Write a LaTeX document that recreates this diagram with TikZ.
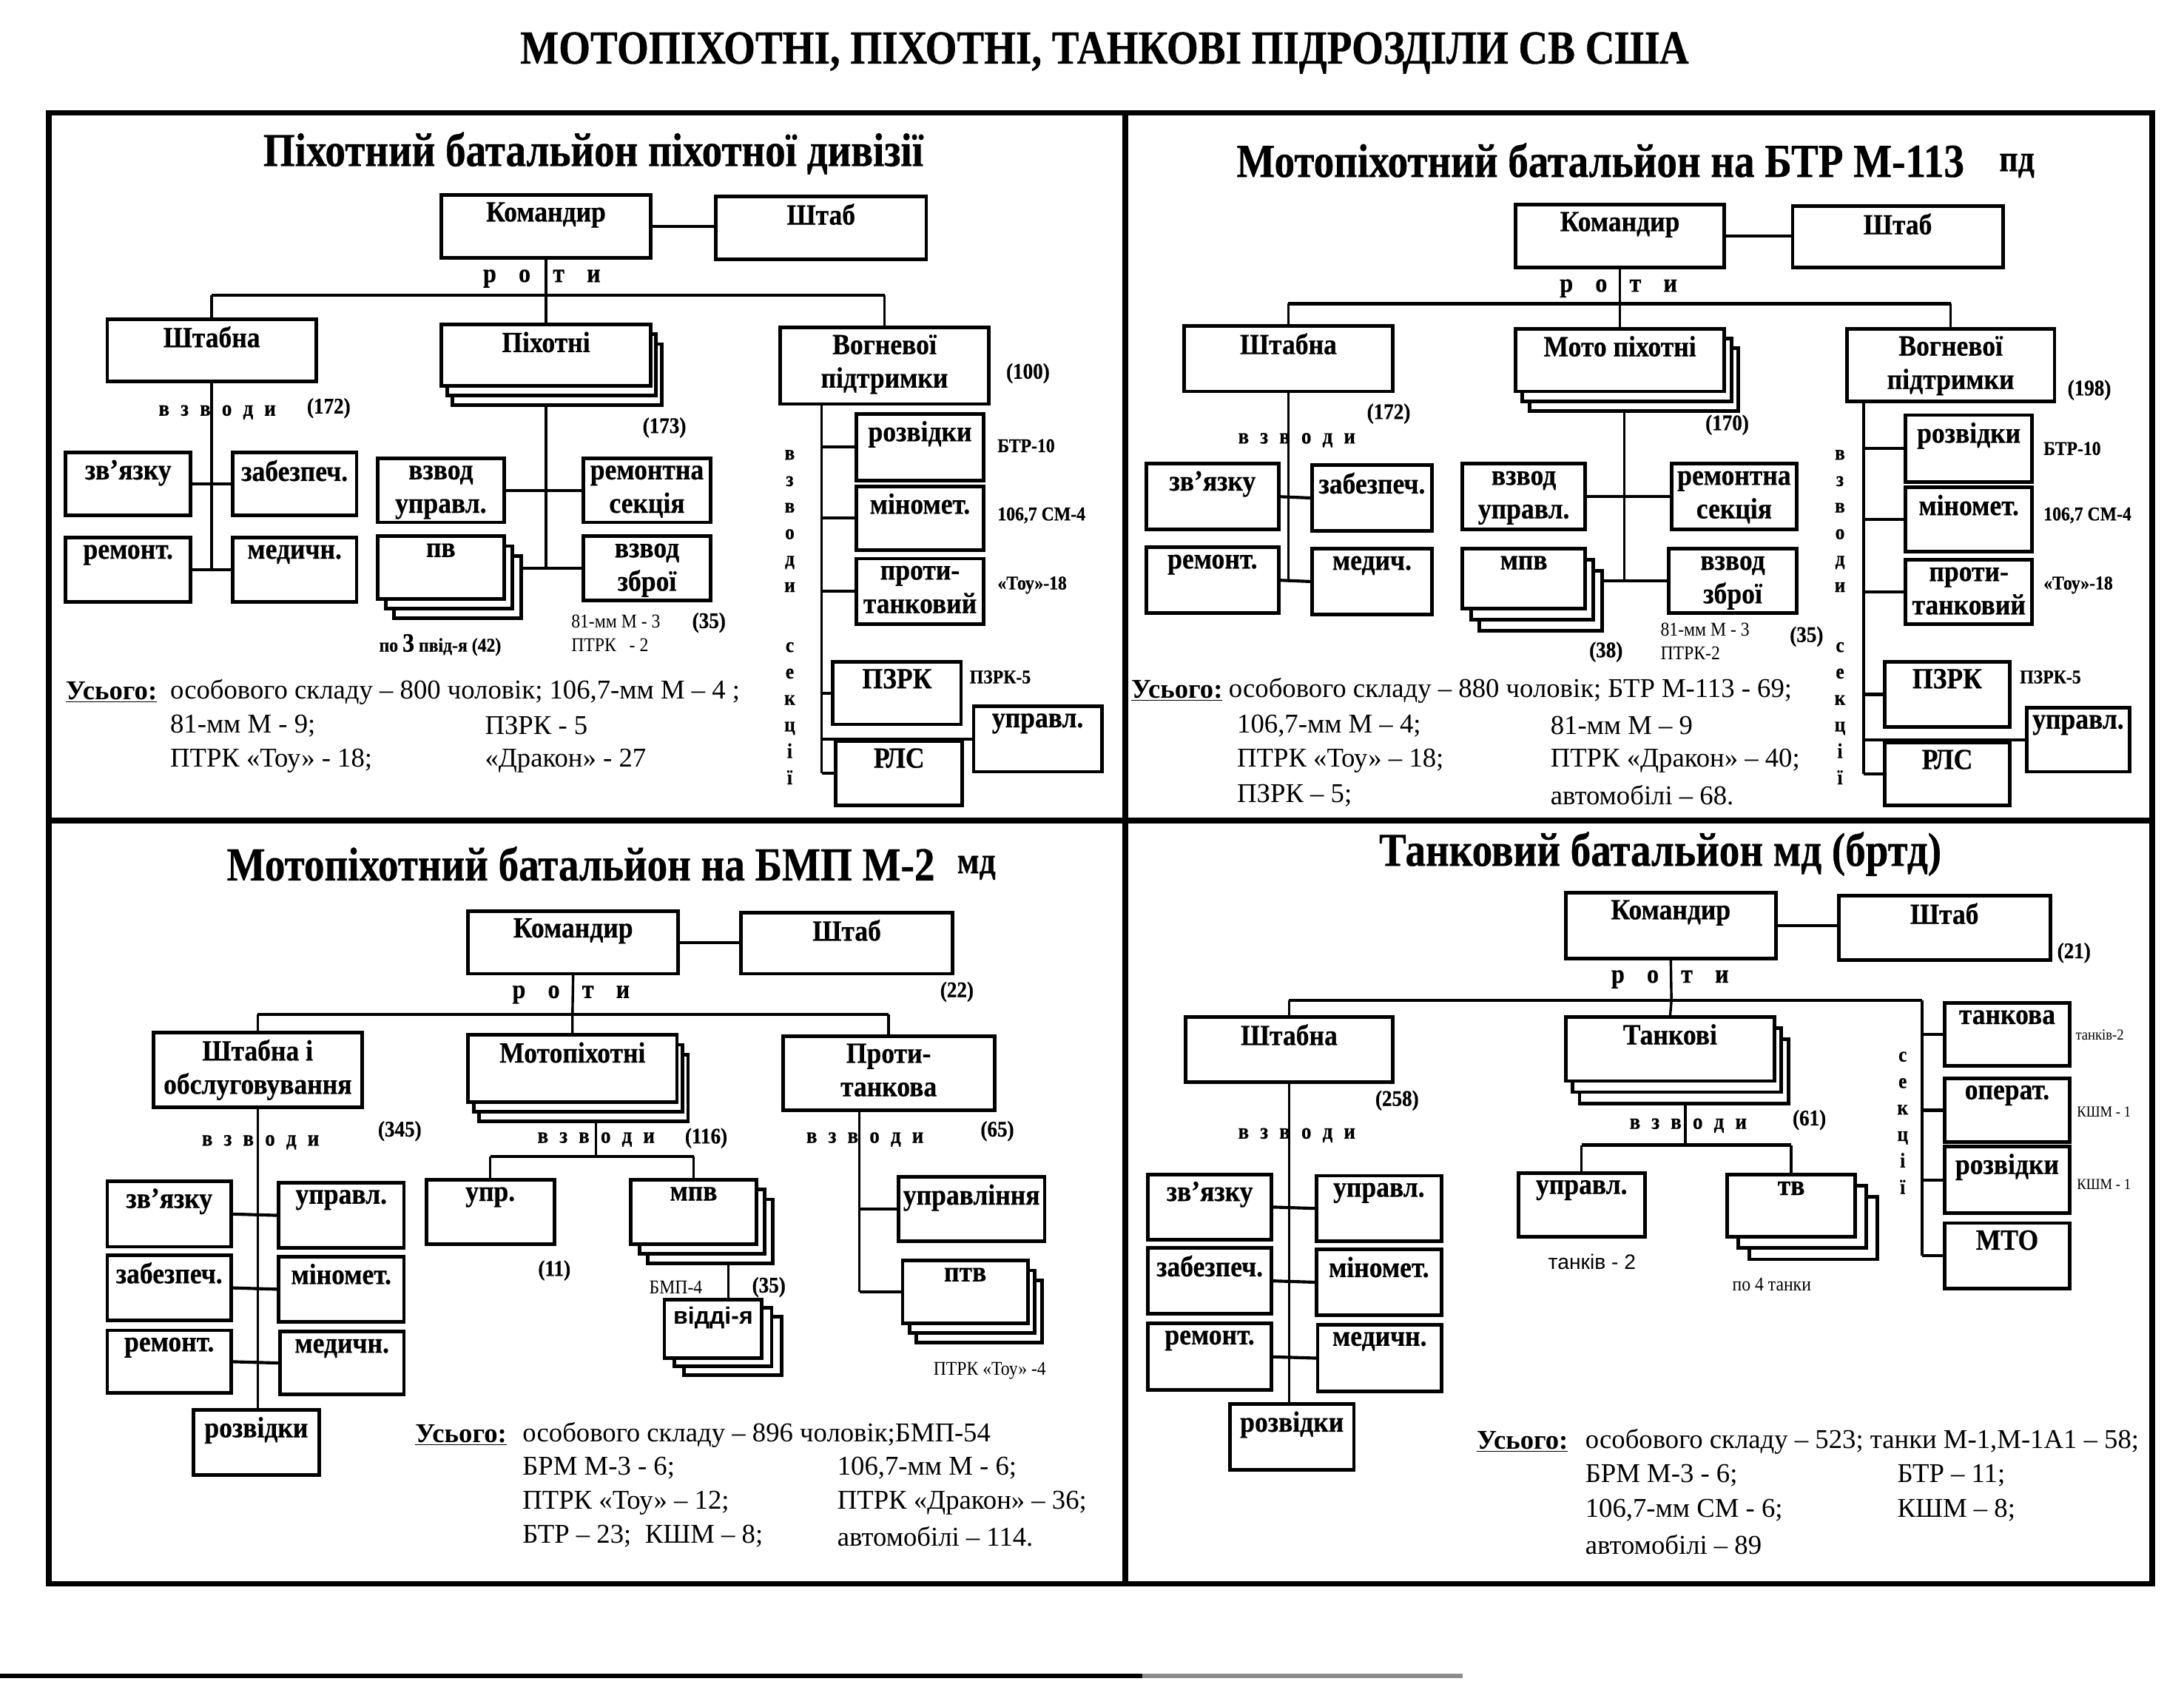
\documentclass[tikz,border=0pt]{standalone}
\usepackage{fontspec}
\setmainfont{Liberation Serif}
\newfontfamily\cnd{Liberation Serif}[FakeStretch=0.9]
\newfontfamily\ttf{Liberation Serif}[FakeStretch=0.86, FakeBold=0.6]
\newfontfamily\lbf{Liberation Serif}[FakeStretch=0.9, FakeBold=0.5]
\newfontfamily\snf{Liberation Sans}
\newcommand\rotu{р\hspace{16pt}о\hspace{16pt}т\hspace{16pt}и}
\newcommand\vzvd{в\hspace{8pt}з\hspace{8pt}в\hspace{8pt}о\hspace{8pt}д\hspace{8pt}и}
\tikzset{
 bxs/.style={draw, line width=2.6pt, fill=white, inner sep=0pt, outer sep=0pt},
 lbl/.style={font=\lbf\bfseries\fontsize{21}{24}\selectfont, align=center, inner sep=0pt},
 cn/.style={line width=1.8pt},
 hc/.style={line width=2.2pt},
 frm/.style={line width=4pt},
 ttl/.style={font=\ttf\bfseries\fontsize{34}{38}\selectfont, inner sep=0pt},
 ttlb/.style={font=\ttf\bfseries\fontsize{27}{30}\selectfont, inner sep=0pt},
 tot/.style={font=\fontsize{19.5}{23}\selectfont, anchor=west, inner sep=0pt},
 num/.style={font=\lbf\bfseries\fontsize{16}{18}\selectfont, inner sep=0pt},
 smb/.style={font=\lbf\bfseries\fontsize{14}{16}\selectfont, inner sep=0pt, anchor=west},
 smr/.style={font=\cnd\fontsize{14}{16}\selectfont, inner sep=0pt, anchor=west},
 tny/.style={font=\cnd\fontsize{11}{13}\selectfont, inner sep=0pt, anchor=west},
 snl/.style={font=\snf\fontsize{15}{17}\selectfont, inner sep=0pt},
 vl/.style={font=\lbf\bfseries\fontsize{15}{19}\selectfont, align=center, inner sep=0pt},
 rt/.style={font=\lbf\bfseries\fontsize{19}{20}\selectfont, inner sep=0pt},
 vz/.style={font=\lbf\bfseries\fontsize{16}{18}\selectfont, inner sep=0pt}
}
\newcommand\bx[6]{%
 \node[bxs, anchor=north west, minimum width={#4-#2}, minimum height={#5-#3}] (#1) at (#2,#3) {};
 \node[lbl, anchor=north, yshift=-5pt] (#1-l) at (#1.north) {#6};}
\newcommand\stk[8]{%
 \draw[bxs] ({#2+2*#6},{#3+2*#7}) rectangle ({#4+2*#6},{#5+2*#7});
 \draw[bxs] ({#2+#6},{#3+#7}) rectangle ({#4+#6},{#5+#7});
 \bx{#1}{#2}{#3}{#4}{#5}{#8}}
\begin{document}
\begin{tikzpicture}[x=1pt,y=-1pt]
\useasboundingbox (0,0) rectangle (1568,1211);
\fill[white] (0,0) rectangle (1568,1211);
% frame
\draw[frm] (35,81) rectangle (1545,1137);
\draw[frm] (808,81) -- (808,1137);
\draw[frm] (35,589) -- (1545,589);
\draw[line width=3.5pt] (0,1203) -- (820,1203);
\draw[line width=3pt, black!45] (820,1203) -- (1050,1203);
\node[ttl] (t0) at (793,38) {МОТОПІХОТНІ, ПІХОТНІ, ТАНКОВІ ПІДРОЗДІЛИ СВ США};

% ================= TL =================
\node[ttl] (t1) at (426,110) {Піхотний батальйон піхотної дивізії};
\bx{k1}{317}{140}{467}{185}{Командир}
\bx{s1}{514}{141}{665}{186}{Штаб}
\draw[hc] (k1.east) -- (k1.east -| s1.west);
\coordinate (b1) at (392,212);
\bx{sh1}{77}{229}{227}{274}{Штабна}
\stk{p1}{317}{233}{467}{277}{4}{7}{Піхотні}
\bx{v1}{560}{235}{710}{290}{Вогневої\\підтримки}
\draw[cn] (k1.south) -- (b1) -- (p1.north);
\draw[hc] (sh1.north |- b1) -- (v1.north |- b1);
\draw[cn] (sh1.north |- b1) -- (sh1.north);
\draw[cn] (v1.north |- b1) -- (v1.north);
\node[rt] (r1) at (389,200) {\rotu};
\node[num] (n100) at (738,268) {(100)};
% Shtabna
\bx{a1}{47}{325}{137}{370}{зв’язку}
\bx{a2}{167}{325}{256}{370}{забезпеч.}
\bx{a3}{47}{386}{137}{432}{ремонт.}
\bx{a4}{167}{386}{256}{432}{медичн.}
\draw[cn] (sh1.south) -- (sh1.south |- a3.east);
\draw[hc] (a1.east) -- (a2.west);
\draw[hc] (a3.east) -- (a4.west);
\node[vz] (w1) at (156,296) {\vzvd};
\node[num] (n172a) at (236,293) {(172)};
% Pikhotni
\bx{c1}{271}{329}{362}{375}{взвод\\управл.}
\bx{c2}{419}{329}{510}{375}{ремонтна\\секція}
\stk{c3}{271}{385}{362}{430}{6}{7}{пв}
\bx{c4}{419}{385}{510}{431}{взвод\\зброї}
\coordinate (p1b) at (392,291);
\draw[cn] (p1b) -- (p1b |- c4.west);
\draw[hc] (c1.east) -- (c2.west);
\draw[hc] (c4.west -| c3.east) ++(12,0) -- (c4.west);
\node[num] (n173) at (477,307) {(173)};
\node[smr] (l1) at (410,446) {81-мм М - 3};
\node[num] (n35a) at (509,447) {(35)};
\node[smr] (l2) at (410,463) {ПТРК \ \ - 2};
\node[smb, anchor=center] (l3) at (316,463) {по {\fontsize{19}{20}\selectfont 3} пвід-я (42)};
% Vognevoi
\coordinate (v1b) at (590,290);
\bx{d1}{615}{297}{706}{345}{розвідки}
\bx{d2}{615}{349}{706}{395}{міномет.}
\bx{d3}{615}{401}{706}{448}{проти-\\танковий}
\bx{d4}{598}{475}{690}{520}{ПЗРК}
\bx{d5}{600}{532}{691}{578}{РЛС}
\bx{d6}{699}{507}{791}{554}{управл.}
\draw[cn] (v1b) -- (v1b |- d5.west);
\foreach \n in {d1,d2,d3,d4,d5,d6} \draw[hc] (v1b |- \n.west) -- (\n.west);
\node[vl] (e1) at (567,374) {в\\з\\в\\о\\д\\и};
\node[vl] (e2) at (567,512) {с\\е\\к\\ц\\і\\ї};
\node[smb] (f1) at (716,320) {БТР-10};
\node[smb] (f2) at (716,370) {106,7 СМ-4};
\node[smb] (f3) at (716,420) {«Тоу»-18};
\node[smb] (f4) at (696,486) {ПЗРК-5};
% totals
\node[tot] (u1) at (47,497) {\textbf{\underline{Усього:}}};
\node[tot] (u1a) at (122,497) {особового складу – 800 чоловік; 106,7-мм М – 4 ;};
\node[tot] (u1b) at (122,521) {81-мм М - 9;};
\node[tot] (u1c) at (348,521) {ПЗРК - 5};
\node[tot] (u1d) at (122,546) {ПТРК «Тоу» - 18;};
\node[tot] (u1e) at (348,546) {«Дракон» - 27};

% ================= TR =================
\node[ttl] (t2) at (1149,115) {Мотопіхотний батальйон на БТР М-113};
\node[ttlb] (t2b) at (1448,119) {пд};
\bx{k2}{1088}{147}{1238}{192}{Командир}
\bx{s2}{1287}{148}{1438}{192}{Штаб}
\draw[hc] (k2.east) -- (k2.east -| s2.west);
\coordinate (b2) at (1163,218);
\bx{sh2}{850}{234}{1000}{281}{Штабна}
\stk{p2}{1088}{236}{1238}{281}{5}{7}{Мото піхотні}
\bx{v2}{1326}{236}{1475}{288}{Вогневої\\підтримки}
\draw[cn] (k2.south) -- (b2) -- (p2.north);
\draw[hc] (sh2.north |- b2) -- (v2.north |- b2);
\draw[cn] (sh2.north |- b2) -- (sh2.north);
\draw[cn] (v2.north |- b2) -- (v2.north);
\node[rt] (r2) at (1162,207) {\rotu};
\node[num] (n198) at (1500,280) {(198)};
% Shtabna
\bx{a5}{823}{333}{918}{380}{зв’язку}
\bx{a6}{942}{334}{1028}{381}{забезпеч.}
\bx{a7}{823}{393}{918}{440}{ремонт.}
\bx{a8}{942}{394}{1028}{441}{медич.}
\draw[cn] (sh2.south) -- (sh2.south |- a7.east);
\draw[hc] (a5.east) -- (a6.west);
\draw[hc] (a7.east) -- (a8.west);
\node[num] (n172b) at (997,297) {(172)};
\node[vz] (w2) at (931,316) {\vzvd};
% Moto
\coordinate (p2b) at (1166,295);
\bx{c5}{1050}{333}{1138}{380}{взвод\\управл.}
\bx{c6}{1200}{333}{1290}{380}{ремонтна\\секція}
\stk{c7}{1050}{394}{1138}{437}{6}{8}{мпв}
\bx{c8}{1198}{394}{1290}{440}{взвод\\зброї}
\draw[cn] (p2b) -- (p2b |- c8.west);
\draw[hc] (c5.east) -- (c6.west);
\draw[hc] (c8.west -| c7.east) ++(12,0) -- (c8.west);
\node[num] (n170) at (1240,305) {(170)};
\node[smr] (l4) at (1192,452) {81-мм М - 3};
\node[smr] (l5) at (1192,469) {ПТРК-2};
\node[num] (n35b) at (1297,457) {(35)};
\node[num] (n38) at (1153,468) {(38)};
% Vognevoi
\coordinate (v2b) at (1338,288);
\bx{d7}{1368}{298}{1459}{346}{розвідки}
\bx{d8}{1368}{350}{1459}{396}{міномет.}
\bx{d9}{1368}{402}{1459}{448}{проти-\\танковий}
\bx{d10}{1353}{475}{1443}{522}{ПЗРК}
\bx{d11}{1353}{533}{1443}{578}{РЛС}
\bx{d12}{1455}{508}{1529}{554}{управл.}
\draw[cn] (v2b) -- (v2b |- d11.west);
\foreach \n in {d7,d8,d9,d10,d11,d12} \draw[hc] (v2b |- \n.west) -- (\n.west);
\node[vl] (e3) at (1321,374) {в\\з\\в\\о\\д\\и};
\node[vl] (e4) at (1321,512) {с\\е\\к\\ц\\і\\ї};
\node[smb] (f5) at (1467,322) {БТР-10};
\node[smb] (f6) at (1467,370) {106,7 СМ-4};
\node[smb] (f7) at (1467,420) {«Тоу»-18};
\node[smb] (f8) at (1450,486) {ПЗРК-5};
% totals
\node[tot] (u2) at (812,496) {\textbf{\underline{Усього:}}};
\node[tot] (u2a) at (882,496) {особового складу – 880 чоловік; БТР М-113 - 69;};
\node[tot] (u2b) at (888,521) {106,7-мм М – 4;};
\node[tot] (u2c) at (1113,521) {81-мм М – 9};
\node[tot] (u2d) at (888,546) {ПТРК «Тоу» – 18;};
\node[tot] (u2e) at (1113,546) {ПТРК «Дракон» – 40;};
\node[tot] (u2f) at (888,571) {ПЗРК – 5;};
\node[tot] (u2g) at (1113,571) {автомобілі – 68.};

% ================= BL =================
\node[ttl] (t3) at (417,620) {Мотопіхотний батальйон на БМП М-2};
\node[ttlb] (t3b) at (701,623) {мд};
\bx{k3}{336}{654}{487}{699}{Командир}
\bx{s3}{532}{655}{684}{699}{Штаб}
\draw[hc] (k3.east) -- (k3.east -| s3.west);
\node[num] (n22) at (687,712) {(22)};
\coordinate (b3) at (411,728);
\node[rt] (r3) at (410,714) {\rotu};
\bx{sh3}{110}{741}{260}{795}{Штабна і\\обслуговування}
\stk{p3}{336}{743}{486}{791}{4}{7}{Мотопіхотні}
\bx{v3}{562}{744}{714}{797}{Проти-\\танкова}
\draw[cn] (k3.south) -- (b3) -- (p3.north);
\draw[hc] (sh3.north |- b3) -- (v3.north |- b3);
\draw[cn] (sh3.north |- b3) -- (sh3.north);
\draw[cn] (v3.north |- b3) -- (v3.north);
% Shtabna
\bx{a9}{77}{848}{166}{895}{зв’язку}
\bx{a10}{200}{849}{290}{896}{управл.}
\bx{a11}{77}{901}{166}{948}{забезпеч.}
\bx{a12}{200}{902}{290}{949}{міномет.}
\bx{a13}{77}{955}{166}{1000}{ремонт.}
\bx{a14}{201}{956}{290}{1001}{медичн.}
\bx{a15}{139}{1012}{229}{1059}{розвідки}
\draw[cn] (sh3.south) -- (sh3.south |- a15.north);
\draw[hc] (a9.east) -- (a10.west);
\draw[hc] (a11.east) -- (a12.west);
\draw[hc] (a13.east) -- (a14.west);
\node[vz] (w3) at (187,820) {\vzvd};
\node[num] (n345) at (287,812) {(345)};
% Motopikhotni
\coordinate (p3b) at (428,805);
\coordinate (b3b) at (428,830);
\bx{g1}{306}{847}{398}{893}{упр.}
\stk{g2}{453}{847}{543}{893}{6}{7}{мпв}
\draw[cn] (p3b) -- (b3b);
\draw[hc] (g1.north |- b3b) -- (g2.north |- b3b);
\draw[cn] (g1.north |- b3b) -- (g1.north);
\draw[cn] (g2.north |- b3b) -- (g2.north);
\node[vz] (w4) at (428,818) {\vzvd};
\node[num] (n116) at (507,817) {(116)};
\node[num] (n11) at (398,912) {(11)};
\coordinate (g2b) at (523,907);
\stk{g3}{477}{933}{547}{975}{7}{6}{{\snf\fontsize{17}{18}\selectfont відді-я}}
\draw[cn] (g2b) -- (g2b |- g3.north);
\node[smr] (l6) at (466,924) {БМП-4};
\node[num] (n35c) at (552,924) {(35)};
% Proty-tankova
\coordinate (v3b) at (617,797);
\bx{h1}{645}{845}{750}{891}{управління}
\stk{h2}{648}{905}{738}{950}{5}{7}{птв}
\draw[cn] (v3b) -- (v3b |- h2.west);
\draw[hc] (v3b |- h1.west) -- (h1.west);
\draw[hc] (v3b |- h2.west) -- (h2.west);
\node[vz] (w5) at (621,818) {\vzvd};
\node[num] (n65) at (716,812) {(65)};
\node[smr] (l7) at (670,984) {ПТРК «Тоу» -4};
% totals
\node[tot] (u3) at (298,1030) {\textbf{\underline{Усього:}}};
\node[tot] (u3a) at (375,1030) {особового складу – 896 чоловік;БМП-54};
\node[tot] (u3b) at (375,1054) {БРМ М-3 - 6;};
\node[tot] (u3c) at (601,1054) {106,7-мм М - 6;};
\node[tot] (u3d) at (375,1079) {ПТРК «Тоу» – 12;};
\node[tot] (u3e) at (601,1079) {ПТРК «Дракон» – 36;};
\node[tot] (u3f) at (375,1103) {БТР – 23; \ КШМ – 8;};
\node[tot] (u3g) at (601,1103) {автомобілі – 114.};

% ================= BR =================
\node[ttl] (t4) at (1192,613) {Танковий батальйон мд (бртд)};
\bx{k4}{1124}{641}{1275}{688}{Командир}
\bx{s4}{1320}{643}{1472}{689}{Штаб}
\draw[hc] (k4.east) -- (k4.east -| s4.west);
\node[num] (n21) at (1489,684) {(21)};
\coordinate (b4) at (1200,718);
\node[rt] (r4) at (1199,703) {\rotu};
\bx{sh4}{851}{730}{1000}{777}{Штабна}
\stk{p4}{1124}{730}{1274}{776}{5}{8}{Танкові}
\bx{q1}{1396}{720}{1486}{765}{танкова}
\bx{q2}{1396}{774}{1486}{820}{операт.}
\bx{q3}{1396}{823}{1486}{871}{розвідки}
\bx{q4}{1396}{878}{1486}{925}{МТО}
\coordinate (s4c) at (1380,718);
\draw[cn] (k4.south) -- (b4) -- (p4.north);
\draw[hc] (sh4.north |- b4) -- (s4c);
\draw[cn] (sh4.north |- b4) -- (sh4.north);
\draw[cn] (s4c) -- (s4c |- q4.west);
\foreach \n in {q1,q2,q3,q4} \draw[hc] (s4c |- \n.west) -- (\n.west);
\node[vl] (e5) at (1366,806) {с\\е\\к\\ц\\і\\ї};
\node[tny] (f9) at (1490,743) {танків-2};
\node[tny] (f10) at (1491,798) {КШМ - 1};
\node[tny] (f11) at (1491,850) {КШМ - 1};
% Shtabna
\bx{a16}{824}{843}{913}{890}{зв’язку}
\bx{a17}{945}{844}{1035}{891}{управл.}
\bx{a18}{824}{896}{913}{943}{забезпеч.}
\bx{a19}{945}{897}{1035}{944}{міномет.}
\bx{a20}{824}{950}{913}{998}{ремонт.}
\bx{a21}{946}{951}{1035}{999}{медичн.}
\bx{a22}{883}{1008}{972}{1055}{розвідки}
\draw[cn] (sh4.south) -- (sh4.south |- a22.north);
\draw[hc] (a16.east) -- (a17.west);
\draw[hc] (a18.east) -- (a19.west);
\draw[hc] (a20.east) -- (a21.west);
\node[num] (n258) at (1003,790) {(258)};
\node[vz] (w6) at (931,815) {\vzvd};
% Tankovi
\coordinate (p4b) at (1210,792);
\coordinate (b4b) at (1210,822);
\bx{g4}{1090}{842}{1181}{888}{управл.}
\stk{g5}{1240}{843}{1332}{888}{8}{8}{тв}
\draw[cn] (p4b) -- (b4b);
\draw[hc] (g4.north |- b4b) -- (g5.north |- b4b);
\draw[cn] (g4.north |- b4b) -- (g4.north);
\draw[cn] (g5.north |- b4b) -- (g5.north);
\node[vz] (w7) at (1212,808) {\vzvd};
\node[num] (n61) at (1299,804) {(61)};
\node[snl] (l8) at (1143,906) {танків - 2};
\node[smr, anchor=center] (l9) at (1272,922) {по 4 танки};
% totals
\node[tot] (u4) at (1060,1035) {\textbf{\underline{Усього:}}};
\node[tot] (u4a) at (1138,1035) {особового складу – 523; танки М-1,М-1А1 – 58;};
\node[tot] (u4b) at (1138,1059) {БРМ М-3 - 6;};
\node[tot] (u4c) at (1362,1059) {БТР – 11;};
\node[tot] (u4d) at (1138,1084) {106,7-мм СМ - 6;};
\node[tot] (u4e) at (1362,1084) {КШМ – 8;};
\node[tot] (u4f) at (1138,1109) {автомобілі – 89};
\end{tikzpicture}
\end{document}
